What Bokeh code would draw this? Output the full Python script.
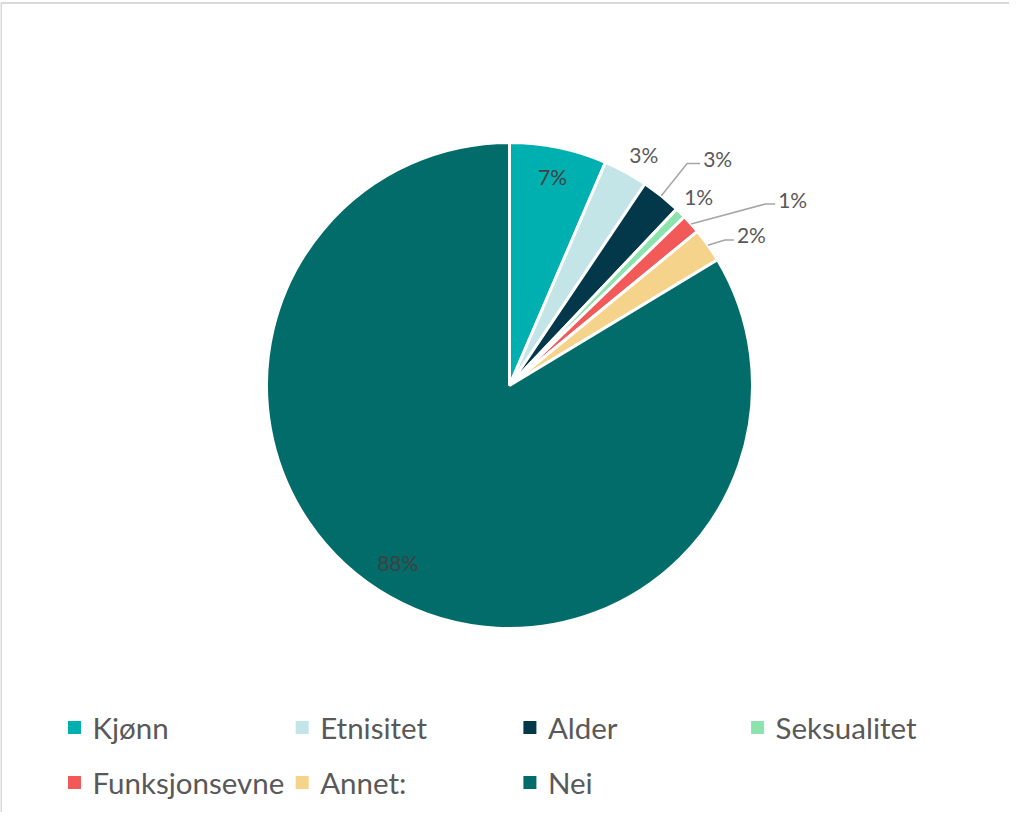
import math
from bokeh.plotting import figure
from bokeh.models import Range1d
from bokeh.core.properties import value
from bokeh.embed import file_html
from bokeh.resources import INLINE

# ---- data ----
categories = ["Kjønn", "Etnisitet", "Alder", "Seksualitet", "Funksjonsevne", "Annet:", "Nei"]
values = [0.068, 0.031, 0.028, 0.0075, 0.0135, 0.024, 0.88]
labels = ["7%", "3%", "3%", "1%", "1%", "2%", "88%"]
colors = ["#00B0B0", "#C3E5E7", "#02384A", "#8CE3AD", "#F25A5A", "#F6D38B", "#016C69"]

# ---- layout / style ----
W, H = 1009, 812
CX, CY, R = 509, 427, 243
# label placement: radius factor, angle shift (deg), leader?, leader tail
lab_r = [0.88, 1.10, 1.17, 1.10, 1.29, 1.07, 0.86]
lab_shift = [0.0, 1.6, 0.0, 0.3, 6.3, 1.2, 2.9]
lab_leader = [False, False, True, False, True, True, False]
lab_tail = [0, 0, 13, 0, 10, 9, 0]
lab_color = ["#404040", "#595959", "#595959", "#595959", "#595959", "#595959", "#404040"]
FONT = "Lato"

p = figure(width=W, height=H, output_backend="svg", toolbar_location=None,
           x_range=Range1d(0, W), y_range=Range1d(0, H),
           x_axis_location=None, y_axis_location=None,
           min_border=0, min_border_left=0, min_border_right=0,
           min_border_top=0, min_border_bottom=0)
p.grid.visible = False
p.outline_line_color = None
p.background_fill_color = "white"
p.border_fill_color = "white"

# chart-area border (only left and top edges fall inside the window)
p.line(x=[0.5, 0.5, W], y=[0, H - 2.5, H - 2.5], line_color="#D9D9D9", line_width=2)

total = sum(values)
cum = 0.0
starts, ends, mids = [], [], []
for v in values:
    a0 = math.pi / 2 - 2 * math.pi * cum / total
    cum += v
    a1 = math.pi / 2 - 2 * math.pi * cum / total
    starts.append(a0)
    ends.append(a1)
    mids.append((a0 + a1) / 2)

p.wedge(x=[CX] * len(values), y=[CY] * len(values), radius=R,
        start_angle=starts, end_angle=ends, direction="clock",
        fill_color=colors, line_color="white", line_width=3)

# labels
for i, lab in enumerate(labels):
    ang = mids[i] - math.radians(lab_shift[i])
    px = CX + lab_r[i] * R * math.cos(ang)
    py = CY + lab_r[i] * R * math.sin(ang)
    if lab_leader[i]:
        sx = CX + R * math.cos(mids[i])
        sy = CY + R * math.sin(mids[i])
        ex = px + lab_tail[i]
        p.line(x=[sx, px, ex], y=[sy, py, py], line_color="#A6A6A6", line_width=1.5)
        p.text(x=[ex + 3], y=[py + 5], text=[lab], text_font=value(FONT),
               text_font_size="21px", text_color=lab_color[i],
               text_align="left", text_baseline="middle")
    else:
        p.text(x=[px], y=[py], text=[lab], text_font=value(FONT),
               text_font_size="21px", text_color=lab_color[i],
               text_align="center", text_baseline="middle")

# legend (manual grid)
LX0, LDX, LY0, LDY = 74, 227.7, 85, 55
for i, cat in enumerate(categories):
    col, row = i % 4, i // 4
    mx = LX0 + col * LDX
    my = LY0 - row * LDY
    p.rect(x=[mx], y=[my], width=13, height=13, fill_color=colors[i], line_color=None)
    p.text(x=[mx + 18], y=[my], text=[cat], text_font=value(FONT),
           text_font_size="29.5px", text_color="#595959",
           text_align="left", text_baseline="middle")

open("out.html", "w").write(file_html(p, INLINE))
